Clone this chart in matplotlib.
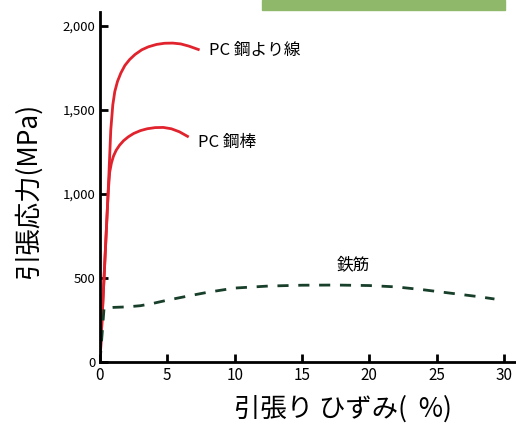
import numpy as np
import matplotlib.pyplot as plt
from matplotlib.patches import Rectangle

plt.rcParams['font.family'] = ['Noto Sans CJK JP', 'DejaVu Sans']

# PC鋼より線 (strain %, stress MPa)
strand_x = np.array([0, 0.6, 0.8, 0.95, 1.1, 1.3, 1.55, 1.85, 2.2, 2.6, 3.1,
                     3.6, 4.2, 4.8, 5.4, 6.0, 6.6, 7.3])
strand_y = np.array([0, 1000, 1380, 1530, 1610, 1670, 1720, 1765, 1800, 1830, 1858,
                     1876, 1890, 1897, 1898, 1893, 1880, 1860])
# PC鋼棒
bar_x = np.array([0, 0.6, 0.72, 0.85, 1.0, 1.2, 1.45, 1.75, 2.1, 2.5, 3.0,
                  3.5, 4.1, 4.7, 5.3, 5.9, 6.5])
bar_y = np.array([0, 1000, 1130, 1185, 1225, 1260, 1290, 1317, 1340, 1360, 1377,
                  1388, 1395, 1396, 1388, 1370, 1343])
# 鉄筋
rebar_x = np.array([0, 0.3, 1, 2, 3, 4, 5, 6.5, 8, 10, 12.5, 15, 17.5, 20, 22, 24, 26, 28, 29.3])
rebar_y = np.array([0, 320, 325, 328, 335, 350, 368, 392, 415, 440, 452, 457, 458, 455, 447, 430, 410, 390, 375])

xticks = [0, 5, 10, 15, 20, 25, 30]
yticks = [0, 500, 1000, 1500, 2000]
ylabels = ['0', '500', '1,000', '1,500', '2,000']

fig = plt.figure(figsize=(5.16, 4.28), dpi=100)
ax = fig.add_axes([100/516, 1-362/428, 416/516, 350/428])

red = '#e0232d'
ax.plot(strand_x, strand_y, color=red, lw=2)
ax.plot(bar_x, bar_y, color=red, lw=2)
ax.plot(rebar_x, rebar_y, color='#173f2a', lw=2, ls=(0, (4, 3.5)))

ax.text(8.1, 1855, 'PC 鋼より線', fontsize=12, va='center')
ax.text(7.3, 1305, 'PC 鋼棒', fontsize=12, va='center')
ax.text(18.8, 580, '鉄筋', fontsize=12, ha='center', va='center')

ax.set_xlim(0, 30.9)
ax.set_ylim(0, 2083)
ax.set_xticks(xticks)
ax.set_yticks(yticks)
ax.set_yticklabels(ylabels)
ax.tick_params(direction='in', length=6, width=2, labelsize=9.5)
ax.tick_params(axis='x', labelsize=11)
for s in ['top', 'right']:
    ax.spines[s].set_visible(False)
for s in ['left', 'bottom']:
    ax.spines[s].set_linewidth(2)

ax.set_ylabel('引張応力(MPa)', fontsize=19)
ax.set_xlabel('引張り ひずみ(  %)', fontsize=19)
ax.yaxis.set_label_coords(-0.14, 0.49)
ax.xaxis.set_label_coords(0.585, -0.095)

# green strip at the top of the page
fig.patches.append(Rectangle((262/516, 1-10/428), 243/516, 10/428,
                             transform=fig.transFigure, color='#8fb86a', zorder=0))

fig.savefig('out.png', dpi=100)
